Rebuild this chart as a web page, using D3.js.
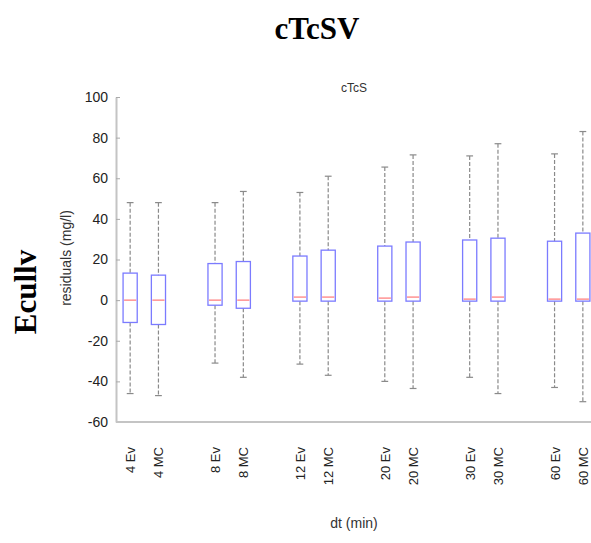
<!DOCTYPE html>
<html>
<head>
<meta charset="utf-8">
<script src="https://cdn.jsdelivr.net/npm/d3@7"></script>
<style>
  body { margin: 0; background: #fff; }
  text { font-family: Arial, "Liberation Sans", sans-serif; }
</style>
</head>
<body>
<div id="chart"></div>
<script>
// data
var dtGroups = [4, 8, 12, 20, 30, 60];
var methods = ["Ev", "MC"];
// one entry per box, order: 4 Ev, 4 MC, 8 Ev, 8 MC, ...
var whiskerHigh = [48, 48, 48, 53.5, 53, 61, 65.5, 71.5, 71, 77, 72, 83];
var boxHigh     = [13.3, 12.3, 18, 19, 21.7, 24.6, 26.6, 28.6, 29.6, 30.5, 29, 33];
var medians     = [0, 0, 0, 0, 1.5, 1.5, 1, 1.5, 0.5, 1.5, 0.5, 0.5];
var boxLow      = [-11, -12, -2.5, -4, -0.5, -0.5, -0.5, -0.5, -0.5, -0.5, -0.5, -0.5];
var whiskerLow  = [-46, -47, -31, -38, -31.5, -37, -40, -43.5, -38, -46, -43, -50];
var yTicks = [-60, -40, -20, 0, 20, 40, 60, 80, 100];

var svgWidth = 591;
var svgHeight = 543;

var margin = { top: 97, right: -6, bottom: 121, left: 116 };
var width = svgWidth - margin.left - margin.right;
var height = svgHeight - margin.top - margin.bottom;

var svg = d3.select("#chart").append("svg")
  .attr("width", svgWidth)
  .attr("height", svgHeight);

// build box table
var boxes = [];
dtGroups.forEach(function(g, gi) {
  methods.forEach(function(m, mi) {
    var i = gi * 2 + mi;
    boxes.push({
      label: g + " " + m,
      slot: gi * 3 + mi + 1,
      lo: whiskerLow[i], q1: boxLow[i], med: medians[i], q3: boxHigh[i], hi: whiskerHigh[i]
    });
  });
});

var x = d3.scaleLinear().domain([0.5, 17.5]).range([0, width]);
var y = d3.scaleLinear().domain([-60, 100]).range([height, 0]);

var chartGroup = svg.append("g")
  .attr("transform", `translate(${margin.left}, ${margin.top})`);

// axes
var leftAxis = d3.axisLeft(y).tickValues(yTicks).tickFormat(d => String(d))
  .tickSizeInner(-4).tickSizeOuter(0).tickPadding(8);
var yAxis = chartGroup.append("g").call(leftAxis);
yAxis.select(".domain").attr("stroke", "#c4c4c4").attr("stroke-width", 2);
yAxis.selectAll(".tick line").attr("stroke", "#aaa");
yAxis.selectAll("text").attr("font-size", 14).attr("fill", "#222");

chartGroup.append("line")
  .attr("x1", 0).attr("x2", width)
  .attr("y1", height).attr("y2", height)
  .attr("stroke", "#c4c4c4").attr("stroke-width", 2);

var boxW = x(1.25) - x(0.75);
var capW = x(1.12) - x(0.88);

var bg = chartGroup.selectAll(".box").data(boxes).enter().append("g").attr("class", "box");

// whiskers
bg.append("line")
  .attr("x1", d => x(d.slot)).attr("x2", d => x(d.slot))
  .attr("y1", d => y(d.hi)).attr("y2", d => y(d.q3))
  .attr("stroke", "#8a8a8a").attr("stroke-dasharray", "4,2").attr("stroke-width", 1.2);
bg.append("line")
  .attr("x1", d => x(d.slot)).attr("x2", d => x(d.slot))
  .attr("y1", d => y(d.q1)).attr("y2", d => y(d.lo))
  .attr("stroke", "#8a8a8a").attr("stroke-dasharray", "4,2").attr("stroke-width", 1.2);
// caps
["hi", "lo"].forEach(function(k) {
  bg.append("line")
    .attr("x1", d => x(d.slot) - capW / 2).attr("x2", d => x(d.slot) + capW / 2)
    .attr("y1", d => y(d[k])).attr("y2", d => y(d[k]))
    .attr("stroke", "#8a8a8a").attr("stroke-width", 1.2);
});
// boxes
bg.append("rect")
  .attr("x", d => x(d.slot) - boxW / 2)
  .attr("y", d => y(d.q3))
  .attr("width", boxW)
  .attr("height", d => y(d.q1) - y(d.q3))
  .attr("fill", "none").attr("stroke", "#7b7bff").attr("stroke-width", 1.3);
// medians
bg.append("line")
  .attr("x1", d => x(d.slot) - boxW / 2 + 1).attr("x2", d => x(d.slot) + boxW / 2 - 1)
  .attr("y1", d => y(d.med)).attr("y2", d => y(d.med))
  .attr("stroke", "#ff7777").attr("stroke-width", 1.2);

// rotated x labels
chartGroup.selectAll(".xlab").data(boxes).enter().append("text")
  .attr("class", "xlab")
  .attr("transform", d => `translate(${x(d.slot) + 5}, ${height + 25}) rotate(-90)`)
  .attr("text-anchor", "end")
  .attr("font-size", 13).attr("fill", "#222")
  .text(d => d.label);

// labels and titles
svg.append("text")
  .attr("x", 317).attr("y", 39)
  .attr("text-anchor", "middle")
  .style("font-family", "'Liberation Serif', 'Times New Roman', serif")
  .attr("font-weight", "bold").attr("font-size", 31)
  .text("cTcSV");

svg.append("text")
  .attr("x", 36).attr("y", 292)
  .attr("transform", "rotate(-90, 36, 292)")
  .attr("text-anchor", "middle")
  .style("font-family", "'Liberation Serif', 'Times New Roman', serif")
  .attr("font-weight", "bold").attr("font-size", 31)
  .text("Ecullv");

svg.append("text")
  .attr("x", 354).attr("y", 92)
  .attr("text-anchor", "middle")
  .attr("font-size", 12).attr("fill", "#333")
  .text("cTcS");

svg.append("text")
  .attr("x", 71).attr("y", 258)
  .attr("transform", "rotate(-90, 71, 258)")
  .attr("text-anchor", "middle")
  .attr("font-size", 14).attr("fill", "#333")
  .text("residuals (mg/l)");

svg.append("text")
  .attr("x", 354).attr("y", 528)
  .attr("text-anchor", "middle")
  .attr("font-size", 14).attr("fill", "#333")
  .text("dt (min)");
</script>
</body>
</html>
